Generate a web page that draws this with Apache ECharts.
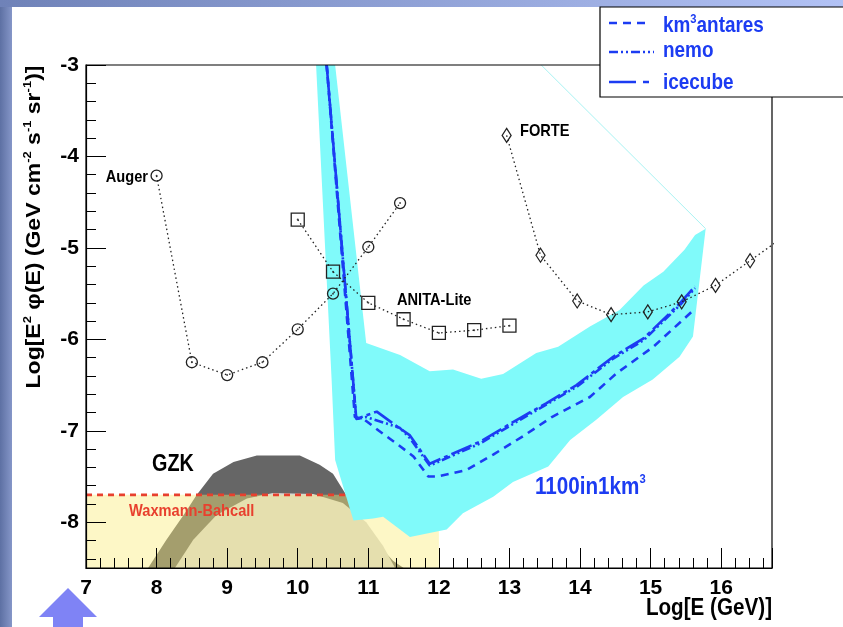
<!DOCTYPE html>
<html>
<head>
<meta charset="utf-8">
<script src="https://cdn.jsdelivr.net/npm/echarts@6/dist/echarts.min.js"></script>
<style>
  html, body { margin: 0; padding: 0; background: #fff; }
  #chart { width: 843px; height: 627px; }
</style>
</head>
<body>
<div id="chart"></div>
<script>
// ---- data ----
var augerX = [8, 8.5, 9, 9.5, 10, 10.5, 11, 11.45];
var augerY = [-4.21, -6.25, -6.39, -6.25, -5.89, -5.5, -4.99, -4.51];

var anitaX = [10, 10.5, 11, 11.5, 12, 12.5, 13];
var anitaY = [-4.69, -5.26, -5.6, -5.78, -5.93, -5.9, -5.85];

var forteX = [12.96, 13.44, 13.96, 14.44, 14.96, 15.44, 15.92, 16.41, 16.9];
var forteY = [-3.77, -5.08, -5.58, -5.73, -5.7, -5.59, -5.41, -5.14, -4.87];

var km3X = [10.41, 10.81, 10.95, 11.15, 11.4, 11.64, 11.85, 11.97, 12.39, 12.77, 13.19, 13.6, 14.14, 14.52, 15.04, 15.58];
var km3Y = [-3.0, -6.85, -6.88, -7.0, -7.14, -7.28, -7.5, -7.5, -7.43, -7.26, -7.06, -6.85, -6.63, -6.37, -6.08, -5.7];

var nemoX = [10.41, 10.83, 10.97, 11.26, 11.45, 11.59, 11.87, 12.58, 13.15, 13.95, 14.47, 14.9, 15.41, 15.63];
var nemoY = [-3.0, -6.87, -6.85, -6.92, -6.97, -7.08, -7.38, -7.14, -6.88, -6.52, -6.21, -6.01, -5.63, -5.44];

var iceX = [10.41, 10.83, 11.12, 11.35, 11.59, 11.87, 12.58, 13.15, 13.52, 13.95, 14.47, 14.9, 15.41, 15.63];
var iceY = [-3.0, -6.87, -6.79, -6.92, -7.05, -7.36, -7.12, -6.86, -6.7, -6.5, -6.19, -5.99, -5.61, -5.42];

// 1100in1km3 band outline
var bandX = [10.26, 10.48, 10.53, 10.6, 10.79, 11.07, 11.21, 11.59, 12.11, 12.34, 12.77, 13.05, 13.55, 13.86, 14.23, 14.61, 15.03, 15.41, 15.6, 15.78,
             15.63, 15.48, 15.18, 14.9, 14.56, 14.14, 13.69, 13.38, 12.91, 12.6, 12.2, 11.87, 11.45, 10.97, 10.53];
var bandY = [-3.0, -6.44, -7.32, -7.5, -7.98, -7.96, -7.94, -8.16, -8.08, -7.9, -7.72, -7.56, -7.39, -7.1, -6.88, -6.63, -6.44, -6.19, -5.97, -4.79,
             -4.86, -5.02, -5.26, -5.41, -5.68, -5.86, -6.08, -6.15, -6.38, -6.43, -6.33, -6.35, -6.17, -6.04, -3.0];
var bandEdgeX = [15.78, 13.45];
var bandEdgeY = [-4.79, -3.0];

// GZK band: outer and inner edges
var gzkOutX = [7.88, 8.14, 8.4, 8.57, 8.8, 9.09, 9.42, 10.03, 10.31, 10.5, 10.67, 10.8, 11.0, 11.35, 11.5];
var gzkOutY = [-8.5, -8.19, -7.9, -7.7, -7.47, -7.34, -7.27, -7.27, -7.37, -7.47, -7.68, -7.88, -8.13, -8.42, -8.5];
var gzkInX = [8.26, 8.52, 8.85, 9.28, 9.65, 10.22, 10.64, 10.97, 11.21, 11.38];
var gzkInY = [-8.5, -8.19, -7.92, -7.74, -7.68, -7.69, -7.79, -8.0, -8.26, -8.5];

// Waxmann-Bahcall
var wbX = [7, 7, 10.9, 11.2, 12, 12];
var wbY = [-8.5, -7.7, -7.7, -7.94, -7.94, -8.5];
var wbLineX = [7, 10.72];
var wbLineY = [-7.7, -7.7];

var FONT = "'Liberation Sans',Arial,sans-serif";
var SX = 0.86;   // the original picture is squeezed sideways
var BLUE = '#1c3cf2';
var INK = '#222';

function pairs(xs, ys) {
    return xs.map(function (x, i) { return [x, ys[i]]; });
}

function polygon(name, xs, ys, fill, z) {
    return {
        type: 'custom', name: name, z: z, silent: true,
        data: pairs(xs, ys),
        encode: {x: 0, y: 1},
        renderItem: function (params, api) {
            if (params.dataIndex !== 0) return null;
            var pts = xs.map(function (x, i) { return api.coord([x, ys[i]]); });
            return {type: 'polygon', shape: {points: pts}, style: {fill: fill}};
        }
    };
}

function curve(name, xs, ys, dash, z) {
    return {
        type: 'line', name: name, z: z, data: pairs(xs, ys),
        showSymbol: false, symbol: 'none', silent: true,
        lineStyle: {color: BLUE, width: 2.6, type: dash}
    };
}

function measured(name, xs, ys, symbol, size) {
    return {
        type: 'line', name: name, z: 8, data: pairs(xs, ys),
        symbol: symbol, symbolSize: size, silent: true,
        lineStyle: {color: INK, width: 1.3, type: [1.5, 3]},
        itemStyle: {color: 'rgba(0,0,0,0)', borderColor: INK, borderWidth: 1.3}
    };
}

function dots(xs, ys) {
    return {
        type: 'scatter', z: 9, data: pairs(xs, ys), symbolSize: 2, silent: true,
        itemStyle: {color: INK}
    };
}

// plain squeezed label
function label(text, x, y, size, color, align, z) {
    return {
        type: 'text', z: z || 20, x: x, y: y, scaleX: SX,
        style: {text: text, fontFamily: FONT, fontWeight: 'bold', fontSize: size, fill: color,
                align: align || 'left', verticalAlign: 'middle'}
    };
}

// squeezed label with a superscript
function supLabel(parts, x, y, size, color, z) {
    return {
        type: 'text', z: z || 20, x: x, y: y, scaleX: SX,
        style: {
            text: parts, align: 'left', verticalAlign: 'middle',
            rich: {
                n: {fontFamily: FONT, fontWeight: 'bold', fontSize: size, lineHeight: size + 5, fill: color},
                s: {fontFamily: FONT, fontWeight: 'bold', fontSize: 13, verticalAlign: 'top', fill: color}
            }
        }
    };
}

var chart = echarts.init(document.getElementById('chart'));

var axisCommon = {
    type: 'value', z: 10,
    axisLine: {lineStyle: {color: '#000', width: 1.2}},
    axisTick: {inside: true, length: 20, lineStyle: {color: '#000', width: 1}},
    minorTick: {show: true, splitNumber: 5, length: 10, lineStyle: {color: '#000', width: 1}},
    splitLine: {show: false},
    minorSplitLine: {show: false}
};

chart.setOption({
    animation: false,
    backgroundColor: '#fff',
    grid: {left: 86, right: 71, top: 65, bottom: 59, show: true, borderColor: '#000', borderWidth: 1.2, z: 10},
    xAxis: echarts.util.merge({
        min: 7, max: 16.72, splitNumber: 9,
        axisLabel: {color: '#000', fontFamily: FONT, fontSize: 21, fontWeight: 'bold', margin: 10, showMaxLabel: false}
    }, axisCommon),
    yAxis: echarts.util.merge({
        min: -8.5, max: -3, splitNumber: 5,
        axisLabel: {color: '#000', fontFamily: FONT, fontSize: 21, fontWeight: 'bold', margin: 7, showMinLabel: false}
    }, axisCommon),
    series: [
        polygon('GZK', gzkOutX, gzkOutY, '#666666', 1),
        polygon('GZK inner', gzkInX, gzkInY, '#d6d6d6', 1),
        polygon('Waxmann-Bahcall', wbX, wbY, 'rgba(250,235,120,0.42)', 2),
        {
            type: 'line', z: 3, data: pairs(wbLineX, wbLineY), symbol: 'none', silent: true,
            lineStyle: {color: '#e8402e', width: 2.6, type: [6, 5]}
        },
        polygon('1100in1km3', bandX, bandY, '#80fafa', 4),
        {
            type: 'line', z: 4, data: pairs(bandEdgeX, bandEdgeY), symbol: 'none', silent: true,
            lineStyle: {color: '#a8f2f2', width: 1}
        },
        curve('km3antares', km3X, km3Y, [8, 6], 6),
        curve('nemo', nemoX, nemoY, [9, 3, 2, 3, 2, 3], 6),
        curve('icecube', iceX, iceY, [22, 4, 4, 4], 7),
        measured('Auger', augerX, augerY, 'circle', 11),
        dots(augerX, augerY),
        measured('ANITA-Lite', anitaX, anitaY, 'rect', 13),
        dots(anitaX, anitaY),
        measured('FORTE', forteX, forteY, 'diamond', [9, 14])
    ],
    graphic: [
        // slide decoration
        {type: 'rect', z: 0, shape: {x: 0, y: 0, width: 12, height: 627},
         style: {fill: new echarts.graphic.LinearGradient(0, 0, 1, 0, [{offset: 0, color: '#5d70a3'}, {offset: 1, color: '#8596c8'}])}},
        {type: 'rect', z: 0, shape: {x: 0, y: 0, width: 843, height: 7},
         style: {fill: new echarts.graphic.LinearGradient(0, 0, 1, 0, [{offset: 0, color: '#6f82b8'}, {offset: 1, color: '#b2c2f5'}])}},
        {type: 'polygon', z: 0, shape: {points: [[68, 588], [97, 617], [83, 617], [83, 627], [53, 627], [53, 617], [39, 617]]},
         style: {fill: '#7f83f5'}},

        // axis titles
        {type: 'text', z: 20, x: 35, y: 227, rotation: Math.PI / 2, scaleY: 0.85,
         style: {
             text: '{n|Log[E}{s|2}{n| \u03c6(E) (GeV cm}{s|-2}{n| s}{s|-1}{n| sr}{s|-1}{n|)]}',
             align: 'center', verticalAlign: 'middle',
             rich: {
                 n: {fontFamily: FONT, fontWeight: 'bold', fontSize: 23, lineHeight: 30, fill: '#000'},
                 s: {fontFamily: FONT, fontWeight: 'bold', fontSize: 13, verticalAlign: 'top', fill: '#000'}
             }
         }},
        label('Log[E (GeV)]', 772, 608, 24, '#000', 'right'),

        // labels inside the plot
        label('Auger', 148, 177, 17, '#000', 'right'),
        label('ANITA-Lite', 397, 300, 17, '#000'),
        label('FORTE', 520, 131, 17, '#000'),
        label('GZK', 152, 465, 23, '#000'),
        label('Waxmann-Bahcall', 129, 511, 17, '#e8402e'),
        supLabel('{n|1100in1km}{s|3}', 535, 487, 24, BLUE),

        // legend box
        {type: 'rect', z: 30, shape: {x: 600, y: 7, width: 260, height: 90},
         style: {fill: '#fff', stroke: '#000', lineWidth: 1.2}},
        {type: 'line', z: 31, shape: {x1: 609, y1: 23, x2: 647, y2: 23},
         style: {stroke: BLUE, lineWidth: 2.6, lineDash: [8, 6]}},
        {type: 'line', z: 31, shape: {x1: 609, y1: 52, x2: 654, y2: 52},
         style: {stroke: BLUE, lineWidth: 2.6, lineDash: [9, 3, 2, 3, 2, 3]}},
        {type: 'line', z: 31, shape: {x1: 609, y1: 82, x2: 653, y2: 82},
         style: {stroke: BLUE, lineWidth: 2.6, lineDash: [27, 7, 6, 100]}},
        supLabel('{n|km}{s|3}{n|antares}', 663, 26, 22, BLUE, 31),
        label('nemo', 663, 51, 22, BLUE, 'left', 31),
        label('icecube', 663, 83, 22, BLUE, 'left', 31)
    ]
});
</script>
</body>
</html>
